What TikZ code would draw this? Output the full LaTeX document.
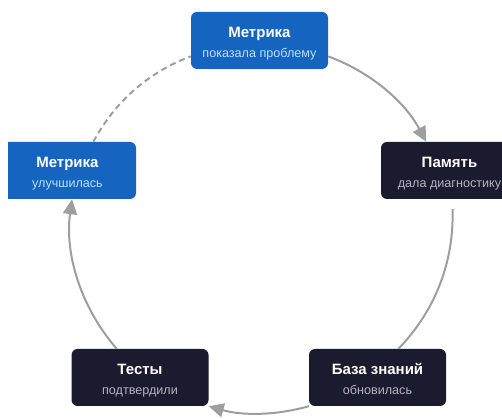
\documentclass[tikz,border=0pt]{standalone}
\usepackage{fontspec}
\setmainfont{Liberation Sans}
\usepackage{tikz}
\usetikzlibrary{arrows.meta, positioning}
\usepackage{xcolor}
\definecolor{loopblue}{HTML}{1565C0}
\definecolor{loopdark}{HTML}{1B1B30}
\definecolor{loopgray}{HTML}{9E9E9E}
\definecolor{loopsubblue}{HTML}{BBDEFB}
\definecolor{loopsubgray}{HTML}{B4B4C0}

\begin{document}
\begin{tikzpicture}[
    x=1pt, y=1pt,
    every node/.style={font=\fontsize{15}{19.5}\selectfont},
    stage/.style={rounded corners=6pt, minimum width=137pt, minimum height=57pt, inner sep=0pt,
        text height=44pt, text depth=10pt, align=center, text=white},
    flow/.style={-{Triangle[length=15pt, width=14pt]}, line width=2pt, draw=loopgray, looseness=0.9}
]
    \useasboundingbox (0,0) rectangle (502,419);
    \clip (8,0) rectangle (502,419);

    \node[stage, fill=loopblue] (metrictop) at (259.5,378.5)
        {\textbf{Метрика}\\{\fontsize{12.6}{15}\selectfont\color{loopsubblue}показала проблему}};
    \node[stage, fill=loopdark] (memory) at (449.5,248.5)
        {\textbf{Память}\\{\fontsize{12.6}{15}\selectfont\color{loopsubgray}дала диагностику}};
    \node[stage, fill=loopdark] (kbase) at (377.5,41.5)
        {\textbf{База знаний}\\{\fontsize{12.6}{15}\selectfont\color{loopsubgray}обновилась}};
    \node[stage, fill=loopdark] (tests) at (140,41.5)
        {\textbf{Тесты}\\{\fontsize{12.6}{15}\selectfont\color{loopsubgray}подтвердили}};
    \node[stage, fill=loopblue] (metricleft) at (67.5,248.5)
        {\textbf{Метрика}\\{\fontsize{12.6}{15}\selectfont\color{loopsubblue}улучшилась}};

    \draw[flow] (metrictop.-13.5) to[bend left=20.6] (memory.129);
    \draw[flow, -] ([yshift=-10pt]memory.-84) to[bend left=23] (kbase.54);
    \draw[flow] (kbase.south west) to[bend left=15.7] (tests.south east);
    \draw[flow] (tests.129) to[bend left=24.5] (metricleft.-81);
    \draw[flow, -, dash pattern=on 6pt off 4pt] (metricleft.48) to[bend left=20.6] (metrictop.193.5);
\end{tikzpicture}
\end{document}
